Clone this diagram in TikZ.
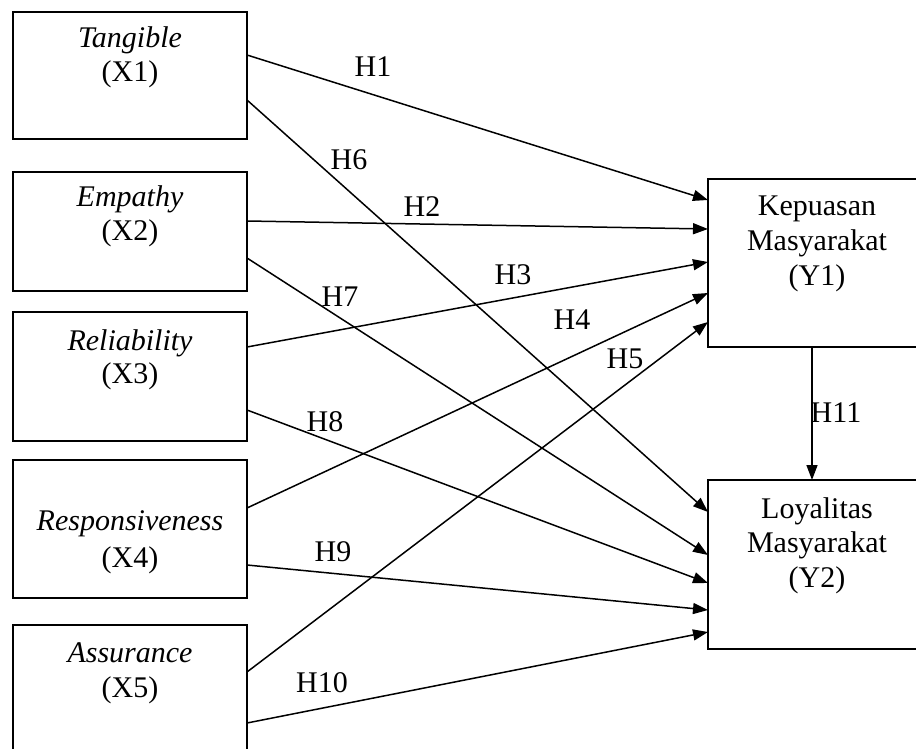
\documentclass[tikz,border=0pt]{standalone}
\usepackage{fontspec}
\setmainfont{Liberation Serif}
\usetikzlibrary{arrows.meta}
\begin{document}
\begin{tikzpicture}[x=1pt,y=-1pt,
  box/.style={draw, line width=1.8pt, inner sep=0pt, outer sep=0pt, anchor=north west},
  lbl/.style={font=\fontsize{30}{36}\selectfont, inner sep=0pt, anchor=base},
  hl/.style={font=\fontsize{30}{36}\selectfont, inner sep=0pt},
  arr/.style={line width=1.5pt, -{Triangle[length=15pt,width=11pt]}}]
\useasboundingbox (0,0) rectangle (916,749);
\clip (0,0) rectangle (916,749);
% boxes
\node[box, minimum width=234pt, minimum height=127pt] (x1) at (13,12) {};
\node[box, minimum width=234pt, minimum height=119pt] (x2) at (13,172) {};
\node[box, minimum width=234pt, minimum height=129pt] (x3) at (13,312) {};
\node[box, minimum width=234pt, minimum height=138pt] (x4) at (13,460) {};
\node[box, minimum width=234pt, minimum height=150pt] (x5) at (13,625) {};
\node[box, minimum width=240pt, minimum height=168pt] (y1) at (708,179) {};
\node[box, minimum width=240pt, minimum height=169pt] (y2) at (708,480) {};
% box texts
\node[lbl] (t1a) at (130,48) {\itshape Tangible};
\node[lbl] (t1b) at (130,82) {(X1)};
\node[lbl] (t2a) at (130,207) {\itshape Empathy};
\node[lbl] (t2b) at (130,240) {(X2)};
\node[lbl] (t3a) at (130,350) {\itshape Reliability};
\node[lbl] (t3b) at (130,383) {(X3)};
\node[lbl] (t4a) at (130,530) {\itshape Responsiveness};
\node[lbl] (t4b) at (130,567) {(X4)};
\node[lbl] (t5a) at (130,662) {\itshape Assurance};
\node[lbl] (t5b) at (130,697) {(X5)};
\node[lbl] (u1a) at (817,215) {Kepuasan};
\node[lbl] (u1b) at (817,250) {Masyarakat};
\node[lbl] (u1c) at (817,285) {(Y1)};
\node[lbl] (u2a) at (817,518) {Loyalitas};
\node[lbl] (u2b) at (817,552) {Masyarakat};
\node[lbl] (u2c) at (817,587) {(Y2)};
% arrows
\draw[arr] ([yshift=-43pt]x1.north east) -- ([yshift=-21pt]y1.north west);
\draw[arr] ([yshift=-49pt]x2.north east) -- ([yshift=-50pt]y1.north west);
\draw[arr] ([yshift=-35pt]x3.north east) -- ([yshift=-83pt]y1.north west);
\draw[arr] ([yshift=-48pt]x4.north east) -- ([yshift=-114pt]y1.north west);
\draw[arr] ([yshift=-47pt]x5.north east) -- ([yshift=-143pt]y1.north west);
\draw[arr] ([yshift=-88pt]x1.north east) -- ([yshift=-32pt]y2.north west);
\draw[arr] ([yshift=-86pt]x2.north east) -- ([yshift=-75pt]y2.north west);
\draw[arr] ([yshift=-98pt]x3.north east) -- ([yshift=-103pt]y2.north west);
\draw[arr] ([yshift=-105pt]x4.north east) -- ([yshift=-130pt]y2.north west);
\draw[arr] ([yshift=-98pt]x5.north east) -- ([yshift=-152pt]y2.north west);
\draw[arr] ([xshift=104pt]y1.south west) -- ([xshift=104pt]y2.north west);
% hypothesis labels
\node[hl] (h1) at (373,67) {H1};
\node[hl] (h2) at (422,207) {H2};
\node[hl] (h3) at (513,275) {H3};
\node[hl] (h4) at (572,320) {H4};
\node[hl] (h5) at (625,359) {H5};
\node[hl] (h6) at (349,160) {H6};
\node[hl] (h7) at (340,297) {H7};
\node[hl] (h8) at (325,422) {H8};
\node[hl] (h9) at (333,552) {H9};
\node[hl] (h10) at (322,683) {H10};
\node[hl] (h11) at (836,413) {H11};
\end{tikzpicture}
\end{document}
